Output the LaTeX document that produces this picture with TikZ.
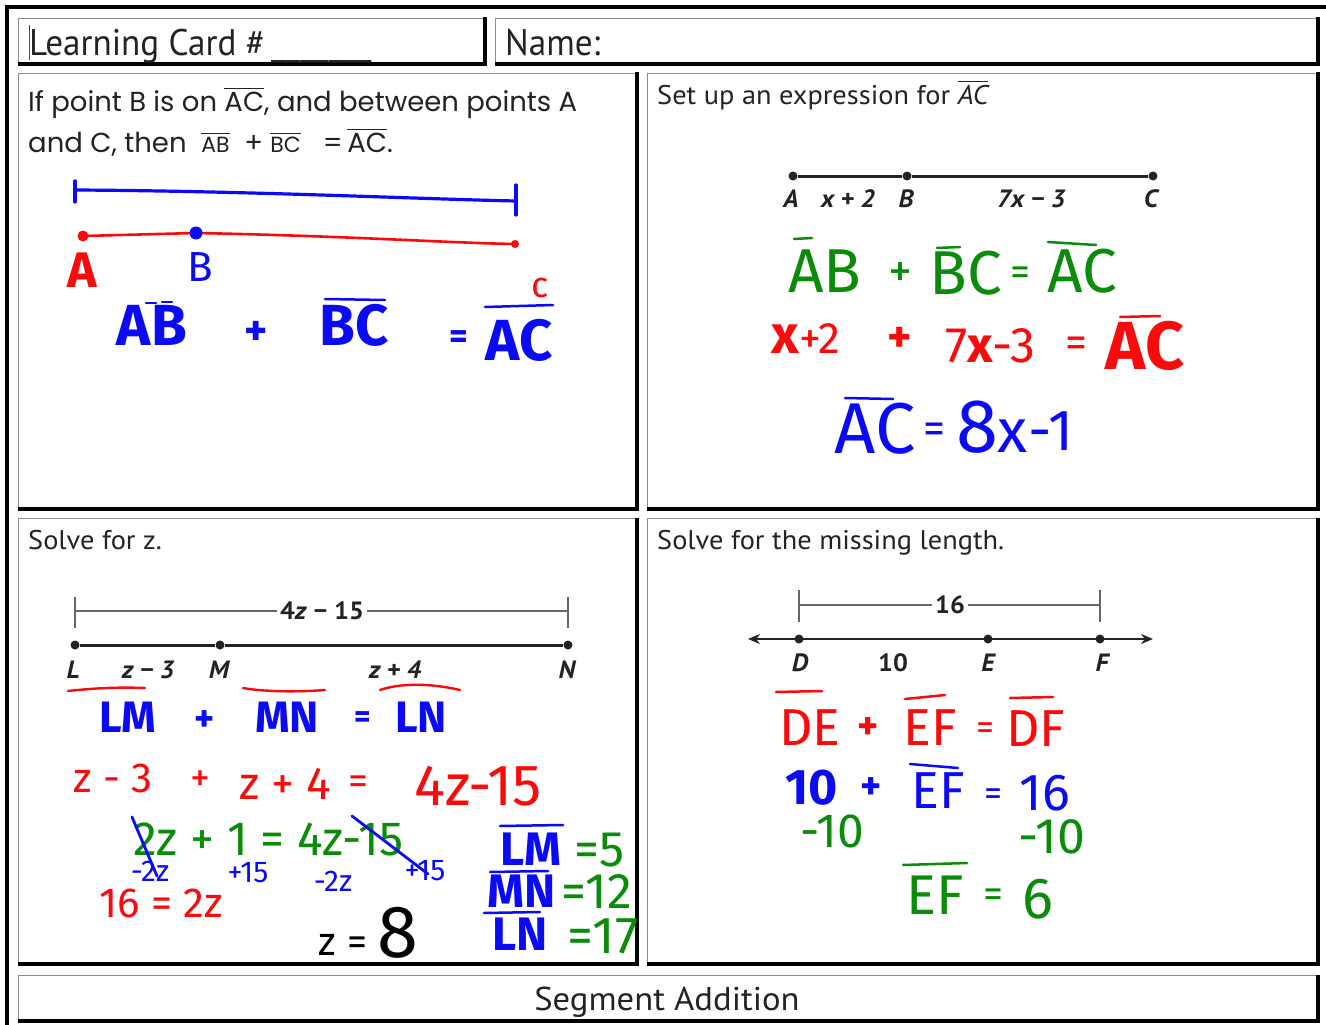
\documentclass[tikz,border=0pt]{standalone}
\usepackage{fontspec}
\setmainfont{PT Sans}
\newfontfamily\din[FakeStretch=1.05]{PT Sans}
\newfontfamily\dinH[FakeStretch=0.95]{PT Sans}
\newfontfamily\cg{Poppins}
\newfontfamily\hand{Fira Sans}
\usetikzlibrary{arrows.meta}
\definecolor{hred}{RGB}{250,10,10}
\definecolor{hblue}{RGB}{10,10,245}
\definecolor{hgreen}{RGB}{10,140,10}
\definecolor{ink}{RGB}{35,35,35}
\newcommand\ovl[2][1.2pt]{\leavevmode\vbox{\hrule height #1\kern 2.5pt\hbox{#2}}}
\begin{document}
\begin{tikzpicture}[x=1pt,y=-1pt,
  box/.style={draw=black!45, line width=0.9pt, inner sep=0, outer sep=0, rectangle},
  dinT/.style={font=\din\fontsize{27}{30}\selectfont, anchor=base west, inner sep=0, text=ink},
  cgT/.style={font=\cg\fontsize{27.5}{30}\selectfont, anchor=base west, inner sep=0, text=ink},
  lbl/.style={font=\din\bfseries\itshape\fontsize{25}{28}\selectfont, inner sep=0, anchor=base, text=ink},
  dimlbl/.style={font=\din\bfseries\fontsize{25}{28}\selectfont, inner ysep=0, inner xsep=3pt, anchor=center, fill=white, text=ink},
  dot/.style={circle, fill=ink, inner sep=0, minimum size=9pt},
  hdot/.style={circle, inner sep=0, minimum size=#1},
  segline/.style={line width=3pt, draw=ink},
  dimline/.style={line width=1.5pt, draw=black!60},
  pen/.style={line width=3.2pt, line cap=round, line join=round},
  hw/.style={font=\hand\fontsize{#1}{#1}\selectfont, inner sep=0, anchor=base},
  hwb/.style={font=\hand\bfseries\fontsize{#1}{#1}\selectfont, inner sep=0, anchor=base},
  sym/.style={font=\hand\fontsize{#1}{#1}\selectfont, inner sep=0, anchor=center},
  symb/.style={font=\hand\bfseries\fontsize{#1}{#1}\selectfont, inner sep=0, anchor=center},
]
\useasboundingbox (0,0) rectangle (1326,1025);
\fill[white] (0,0) rectangle (1326,1025);

% ---------- frame and boxes ----------
\draw[line width=3.8pt] (7,1025) -- (7,7) -- (1326,7);
\node[box, minimum width=466pt, minimum height=45pt] (hdrL) at (251,40.5) {};
\node[box, minimum width=822pt, minimum height=45pt] (hdrR) at (906,40.5) {};
\node[box, minimum width=618pt, minimum height=435pt] (tl) at (327,290.5) {};
\node[box, minimum width=670pt, minimum height=435pt] (tr) at (982,290.5) {};
\node[box, minimum width=618pt, minimum height=445pt] (bl) at (327,740.5) {};
\node[box, minimum width=670pt, minimum height=445pt] (br) at (982,740.5) {};
\node[box, minimum width=1299pt, minimum height=45pt] (ftr) at (667.5,997.5) {};
\foreach \b in {hdrL,hdrR,tl,tr,bl,br,ftr}
  \draw[line width=4pt] ([xshift=1.2pt,yshift=0.5pt]\b.north east) -- ([xshift=1.2pt,yshift=-1.2pt]\b.south east) -- ([yshift=-1.2pt]\b.south west);

% ---------- header / footer ----------
\draw[line width=0.6pt, black!70] (29,25) -- (29,60);
\node[dinT, font=\dinH\fontsize{37}{40}\selectfont] (lc) at (29,56) {Learning Card \#\,\_\_\_\_\_\_\_};
\node[dinT, font=\dinH\fontsize{37}{40}\selectfont] (nm) at (505,56) {Name:};
\node[dinT, font=\din\fontsize{33}{36}\selectfont, anchor=base] (sa) at (667,1010) {Segment Addition};

% ---------- top left ----------
\node[cgT] (inst1) at (28,111) {If point B is on \ovl{AC}, and between points A};
\node[cgT] (inst2) at (28,152) {and C, then \ {\fontsize{22}{24}\selectfont\ovl[1pt]{AB}}\ \ +\ {\fontsize{22}{24}\selectfont\ovl[1pt]{BC}}\ \ \ =\,\ovl{AC}.};

\coordinate (bL) at (75,190);
\coordinate (bR) at (516,201);
\draw[hblue, pen] (75,181) -- (75,202);
\draw[hblue, pen] (516,185) -- (516,215);
\draw[hblue, pen] (bL) .. controls (250,191) and (420,199) .. (bR);
\coordinate (cA) at (83,236);
\coordinate (cB) at (196,233);
\coordinate (cC) at (515,244);
\draw[hred, line width=2.6pt, line cap=round] (cA) -- (cB) .. controls (350,236) and (450,243) .. (cC);
\node[hdot=11pt, fill=hred] (pA) at (cA) {};
\node[hdot=13pt, fill=hblue] (pB) at (cB) {};
\node[hdot=8pt, fill=hred] (pC) at (cC) {};
\node[hwb=50, text=hred] (lA) at (82,287) {A};
\node[hw=42, text=hblue] (lB) at (200,281) {B};
\node[hw=36, text=hred] (lC) at (540,297) {c};

\node[hwb=58, text=hblue] (tAB) at (152,345) {AB};
\node[symb=44, text=hblue] (tp1) at (256,333) {+};
\node[hwb=58, text=hblue] (tBC) at (354,345) {BC};
\node[symb=36, text=hblue] (te1) at (459,340) {=};
\node[hwb=58, text=hblue] (tAC) at (519,360) {AC};
\draw[hblue, pen, line width=2.5pt] (146,303) -- (156,303);
\draw[hblue, pen, line width=2.5pt] (162,302) -- (172,302);
\draw[hblue, pen, line width=2.5pt] (325,299) -- (385,300);
\draw[hblue, pen, line width=2.5pt] (485,307) -- (553,305);

% ---------- top right ----------
\node[dinT] (q2) at (657,104) {Set up an expression for \ovl{\itshape AC}};
\node[dot] (A) at (793,176) {};
\node[dot] (B) at (907,176) {};
\node[dot] (C) at (1153,176) {};
\draw[segline] (A) -- (B) -- (C);
\node[lbl] (lA2) at (791,207) {A};
\node[lbl] (lAB) at (848,207) {x + 2};
\node[lbl] (lB2) at (906,207) {B};
\node[lbl] (lBC) at (1031,207) {7x − 3};
\node[lbl] (lC2) at (1151,207) {C};

\node[hw=62, text=hgreen] (gAB) at (825,292) {AB};
\node[sym=48, text=hgreen] (gp) at (900,275) {+};
\node[hw=62, text=hgreen] (gBC) at (966,294) {BC};
\node[sym=40, text=hgreen] (ge) at (1020,276) {=};
\node[hw=62, text=hgreen] (gAC) at (1082,292) {AC};
\draw[hgreen, pen, line width=2.5pt] (794,239) -- (812,238);
\draw[hgreen, pen, line width=2.5pt] (937,248) -- (960,247);
\draw[hgreen, pen, line width=2.5pt] (1048,242) -- (1096,245);

\node[hw=44, text=hred] (rx) at (806,353) {{\bfseries\fontsize{54}{54}\selectfont x}+2};
\node[symb=46, text=hred] (rp) at (900,340) {+};
\node[hw=50, text=hred] (r7) at (990,362) {7{\bfseries x}-3};
\node[sym=44, text=hred] (re) at (1076,347) {=};
\node[hwb=68, text=hred] (rAC) at (1145,369) {AC};
\draw[hred, pen, line width=2.5pt] (1120,317) -- (1160,316);

\node[hw=72, text=hblue] (bAC) at (875,453) {AC};
\node[sym=44, text=hblue] (be) at (934,433) {=};
\node[hw=76, text=hblue] (b8) at (992,452) {8{\fontsize{62}{62}\selectfont x}};
\node[hw=58, text=hblue] (b1) at (1051,450) {-1};
\draw[hblue, pen, line width=2.5pt] (845,398) -- (893,399);

% ---------- bottom left ----------
\node[dinT] (q3) at (28,549) {Solve for z.};
\coordinate (dL1) at (75,597); \coordinate (dL2) at (75,628);
\coordinate (dR1) at (568,597); \coordinate (dR2) at (568,628);
\coordinate (dLm) at (75,611); \coordinate (dRm) at (568,611);
\draw[dimline] (dL1) -- (dL2);
\draw[dimline] (dR1) -- (dR2);
\draw[dimline] (dLm) -- (dRm);
\node[dimlbl] (d4z) at (322,611) {4\textit{z} − 15};
\node[dot] (L) at (75,645) {};
\node[dot] (M) at (220,645) {};
\node[dot] (N) at (568,645) {};
\draw[segline] (L) -- (M) -- (N);
\node[lbl] (lL) at (73,678) {L};
\node[lbl] (lLM) at (148,678) {z − 3};
\node[lbl] (lM) at (219,678) {M};
\node[lbl] (lMN) at (395,678) {z + 4};
\node[lbl] (lN) at (567,678) {N};

\draw[hred, line width=2.4pt, line cap=round] (68,691) .. controls (95,688) and (120,687) .. (145,688);
\draw[hred, line width=2.4pt, line cap=round] (243,688) .. controls (265,692) and (300,692) .. (325,690);
\draw[hred, line width=2.4pt, line cap=round] (380,690) .. controls (400,683) and (430,683) .. (460,690);

\node[hwb=44, text=hblue] (sLM) at (128,732) {LM};
\node[symb=38, text=hblue] (sp) at (205,721) {+};
\node[hwb=44, text=hblue] (sMN) at (287,732) {MN};
\node[symb=32, text=hblue] (se) at (363,720) {=};
\node[hwb=44, text=hblue] (sLN) at (421,732) {LN};

\node[hw=42, text=hred] (z3) at (113,792) {z - 3};
\node[sym=40, text=hred] (zp) at (200,781) {+};
\node[hw=46, text=hred] (z4) at (285,799) {z + 4};
\node[sym=40, text=hred] (ze) at (358,785) {=};
\node[hw=58, text=hred] (z15) at (478,805) {4z-15};

\node[hw=48, text=hgreen] (g2z) at (268,855) {2z + 1 = 4z-15};
\draw[hblue, pen, line width=2.8pt] (132,817) -- (157,876);
\draw[hblue, pen, line width=2.8pt] (352,816) -- (428,874);
\node[hw=30, text=hblue] (m1) at (150,881) {-2z};
\node[hw=30, text=hblue] (m2) at (248,882) {+15};
\node[hw=30, text=hblue] (m3) at (333,891) {-2z};
\node[hw=30, text=hblue] (m4) at (425,880) {+15};
\node[hw=42, text=hred] (s16) at (161,917) {16 = 2z};
\node[hw=40, text=black] (zz) at (343,955) {z =};
\node[hw=74, text=black] (z8) at (398,957) {8};

\node[hwb=47, text=hblue] (rLM) at (531,865) {LM};
\node[hw=50, text=hgreen] (r5) at (600,866) {=5};
\node[hwb=47, text=hblue] (rMN) at (522,907) {MN};
\node[hw=50, text=hgreen] (r12) at (597,908) {=12};
\node[hwb=47, text=hblue] (rLN) at (520,950) {LN};
\node[hw=52, text=hgreen] (r17) at (603,953) {=17};
\draw[hblue, pen, line width=2.5pt] (500,826) -- (563,825);
\draw[hblue, pen, line width=2.5pt] (490,872) -- (548,871);
\draw[hblue, pen, line width=2.5pt] (484,913) -- (540,912);

% ---------- bottom right ----------
\node[dinT] (q4) at (657,549) {Solve for the missing length.};
\coordinate (eL1) at (799,590); \coordinate (eL2) at (799,622);
\coordinate (eR1) at (1100,590); \coordinate (eR2) at (1100,622);
\coordinate (eLm) at (799,605); \coordinate (eRm) at (1100,605);
\draw[dimline] (eL1) -- (eL2);
\draw[dimline] (eR1) -- (eR2);
\draw[dimline] (eLm) -- (eRm);
\node[dimlbl] (d16) at (950,605) {16};
\coordinate (nlL) at (748,639);
\coordinate (nlR) at (1153,639);
\draw[segline, line width=2.5pt, {Stealth[length=12pt,width=10pt]}-{Stealth[length=12pt,width=10pt]}] (nlL) -- (nlR);
\node[dot] (D) at (799,639) {};
\node[dot] (E) at (988,639) {};
\node[dot] (F) at (1100,639) {};
\node[lbl] (lD) at (800,671) {D};
\node[lbl, font=\din\bfseries\fontsize{25}{28}\selectfont] (l10) at (893,671) {10};
\node[lbl] (lE) at (988,671) {E};
\node[lbl] (lF) at (1102,671) {F};

\node[hw=52, text=hred] (rDE) at (810,745) {DE};
\node[symb=40, text=hred] (rp2) at (868,729) {+};
\node[hw=52, text=hred] (rEF) at (930,745) {EF};
\node[sym=36, text=hred] (re2) at (985,731) {=};
\node[hw=52, text=hred] (rDF) at (1036,746) {DF};
\draw[hred, pen, line width=2.5pt] (776,692) -- (822,691);
\draw[hred, pen, line width=2.5pt] (905,699) -- (945,695);
\draw[hred, pen, line width=2.5pt] (1010,698) -- (1053,697);

\node[hwb=50, text=hblue] (b10) at (812,804) {10};
\node[symb=40, text=hblue] (bp2) at (871,789) {+};
\node[hw=52, text=hblue] (bEF) at (938,808) {EF};
\node[sym=36, text=hblue] (be2) at (993,797) {=};
\node[hw=52, text=hblue] (b16) at (1045,810) {16};
\draw[hblue, pen, line width=2.5pt] (910,764) -- (958,768);

\node[hw=48, text=hgreen] (gm1) at (832,847) {-10};
\node[hw=50, text=hgreen] (gm2) at (1052,853) {-10};
\node[hw=56, text=hgreen] (gEF) at (935,914) {EF};
\node[sym=40, text=hgreen] (ge2) at (993,898) {=};
\node[hw=58, text=hgreen] (g6) at (1038,918) {6};
\draw[hgreen, pen, line width=2.5pt] (903,865) -- (967,863);
\end{tikzpicture}
\end{document}
